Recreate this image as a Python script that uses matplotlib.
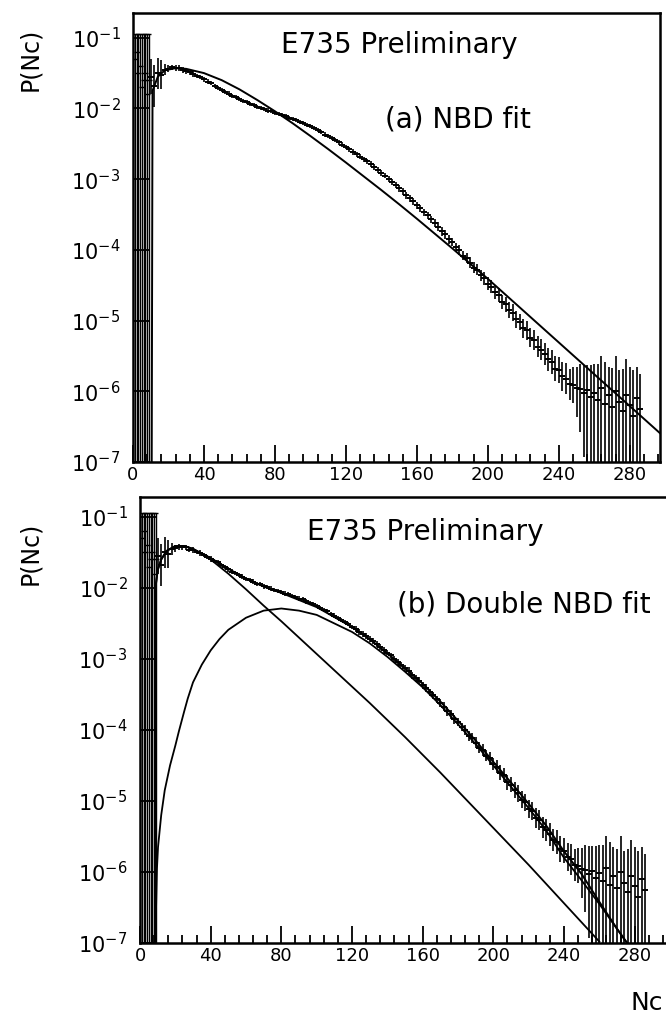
import numpy as np
import matplotlib.pyplot as plt
from matplotlib.ticker import FixedLocator, MultipleLocator, NullLocator

plt.rcParams['font.family'] = ['DejaVu Sans']

# measured multiplicity distribution (log10 P), same data in both panels
nc_low = [1, 2, 3, 4, 5, 6, 7, 8, 9]
logp_low = [-1.3, -1.2, -1.5, -1.4, -1.7, -1.6, -1.5, -1.8, -1.6]
low_top = -0.95

nc = list(range(10, 287, 2))
logp = [-1.55, -1.68, -1.50, -1.52, -1.45, -1.44, -1.42, -1.43, -1.43, -1.46,
        -1.47, -1.49, -1.51, -1.54, -1.56, -1.59, -1.62, -1.64, -1.68, -1.71,
        -1.74, -1.77, -1.79, -1.82, -1.84, -1.87, -1.89, -1.91, -1.94, -1.95,
        -1.98, -1.99, -2.01, -2.03, -2.04, -2.06, -2.08, -2.09, -2.11, -2.13,
        -2.15, -2.16, -2.19, -2.21, -2.23, -2.25, -2.28, -2.31, -2.33, -2.37,
        -2.39, -2.42, -2.45, -2.48, -2.51, -2.55, -2.58, -2.62, -2.65, -2.68,
        -2.72, -2.75, -2.79, -2.83, -2.87, -2.91, -2.95, -3.00, -3.04, -3.08,
        -3.13, -3.17, -3.23, -3.27, -3.31, -3.37, -3.41, -3.47, -3.51, -3.57,
        -3.62, -3.67, -3.74, -3.78, -3.85, -3.89, -3.96, -4.00, -4.08, -4.12,
        -4.18, -4.25, -4.28, -4.36, -4.40, -4.48, -4.52, -4.60, -4.64, -4.74,
        -4.77, -4.85, -4.89, -4.98, -5.02, -5.11, -5.14, -5.24, -5.27, -5.37,
        -5.41, -5.47, -5.55, -5.58, -5.68, -5.70, -5.79, -5.82, -5.90, -5.91,
        -5.96, -5.97, -6.03, -5.98, -6.08, -6.02, -6.12, -5.95, -6.18, -6.05,
        -6.22, -6.00, -6.15, -6.28, -6.05, -6.20, -6.35, -6.10, -6.25]
# error bar half-lengths in decades
err_hi = [0.25, 0.30, 0.22, 0.20, 0.08, 0.05, 0.04, 0.04, 0.04, 0.04,
          0.04, 0.03, 0.04, 0.03, 0.03, 0.04, 0.03, 0.03, 0.03, 0.03,
          0.03, 0.03, 0.03, 0.03, 0.03, 0.03, 0.03, 0.03, 0.03, 0.03,
          0.03, 0.03, 0.03, 0.03, 0.03, 0.03, 0.03, 0.03, 0.03, 0.03,
          0.03, 0.03, 0.03, 0.03, 0.03, 0.03, 0.03, 0.03, 0.03, 0.03,
          0.03, 0.03, 0.03, 0.03, 0.03, 0.03, 0.04, 0.04, 0.04, 0.04,
          0.04, 0.04, 0.04, 0.04, 0.04, 0.04, 0.04, 0.04, 0.04, 0.04,
          0.05, 0.05, 0.05, 0.05, 0.05, 0.05, 0.05, 0.05, 0.05, 0.05,
          0.06, 0.06, 0.06, 0.06, 0.06, 0.06, 0.06, 0.07, 0.07, 0.07,
          0.08, 0.08, 0.08, 0.08, 0.09, 0.09, 0.09, 0.10, 0.10, 0.10,
          0.11, 0.11, 0.12, 0.12, 0.12, 0.13, 0.13, 0.14, 0.14, 0.15,
          0.15, 0.16, 0.16, 0.17, 0.18, 0.18, 0.20, 0.22, 0.22, 0.25,
          0.30, 0.35, 0.40, 0.35, 0.45, 0.40, 0.50, 0.45, 0.60, 0.40,
          0.55, 0.50, 0.45, 0.60, 0.50, 0.55, 0.65, 0.45, 0.50]
err_lo = err_hi[:120] + [0.4, 0.6, 0.9, 2.5, 2.5, 2.5, 2.5, 2.5, 2.5, 2.5,
                         2.5, 2.5, 2.5, 2.5, 2.5, 2.5, 2.5, 2.5, 2.5]

# (a) single NBD fit
nc_fit_a = [10.5, 11, 14, 18, 24, 30, 40, 50, 60, 70, 80, 90, 100, 110, 120,
            130, 140, 150, 160, 170, 180, 190, 200, 210, 220, 230, 240, 250, 260,
            270, 280, 290, 298]
log_fit_a = [-7.5, -1.75, -1.55, -1.46, -1.43, -1.44, -1.50, -1.60, -1.73, -1.88,
             -2.04, -2.21, -2.39, -2.575, -2.765, -2.96, -3.155, -3.355, -3.56,
             -3.77, -3.98, -4.195, -4.41, -4.635, -4.86, -5.085, -5.31, -5.535,
             -5.76, -5.985, -6.21, -6.435, -6.615]

# (b) double NBD fit: soft component, semi-hard component and their sum
nc_soft = [8.5, 9, 10, 12, 15, 20, 25, 30, 40, 50, 60, 70, 80, 90, 100, 110, 120,
           130, 140, 150, 160, 170, 180, 190, 200, 210, 220, 230, 240, 250, 260]
log_soft = [-7.5, -1.95, -1.75, -1.6, -1.48, -1.41, -1.41, -1.45, -1.60, -1.80,
            -2.02, -2.25, -2.47, -2.70, -2.93, -3.16, -3.39, -3.62, -3.86, -4.10,
            -4.35, -4.60, -4.86, -5.12, -5.38, -5.64, -5.90, -6.17, -6.44, -6.71,
            -6.98]
nc_hard = [9, 9.6, 10.2, 12, 14, 17, 20, 22, 25, 27, 30, 35, 40, 45, 50, 60, 70,
           80, 90, 100, 110, 120, 130, 140, 150, 160, 170, 180, 190, 200, 210,
           220, 230, 240, 250, 260, 270, 280]
log_hard = [-6.6, -5.95, -5.65, -5.2, -4.85, -4.5, -4.22, -4.02, -3.74, -3.56,
            -3.33, -3.08, -2.88, -2.72, -2.59, -2.42, -2.32, -2.29, -2.32, -2.38,
            -2.50, -2.62, -2.78, -2.97, -3.18, -3.40, -3.65, -3.92, -4.20, -4.50,
            -4.80, -5.10, -5.42, -5.80, -6.12, -6.45, -6.80, -7.15]
nc_sum = [8.5, 9, 10, 12, 15, 20, 25, 30, 40, 50, 60, 70, 80, 90, 100, 110, 120,
          130, 140, 150, 160, 170, 180, 190, 200, 210, 220, 230, 240, 250, 260,
          270, 280]
log_sum = [-7.5, -1.95, -1.75, -1.6, -1.48, -1.41, -1.41, -1.45, -1.58, -1.73,
           -1.87, -1.98, -2.07, -2.17, -2.27, -2.41, -2.55, -2.72, -2.92, -3.13,
           -3.35, -3.60, -3.87, -4.15, -4.45, -4.74, -5.04, -5.35, -5.71, -6.03,
           -6.42, -6.80, -7.15]

x_labels = [0, 40, 80, 120, 160, 200, 240, 280]
y_decades = [1e-7, 1e-6, 1e-5, 1e-4, 1e-3, 1e-2, 1e-1]

W, H = 666, 1019
fig = plt.figure(figsize=(W / 100, H / 100), dpi=100)
# panel boxes in pixels: left, top, right, bottom
boxes = [(133, 13, 660, 462), (140, 497, 670, 943)]
xmax = [297, 300]
ytop = [-0.65, -0.72]

axes = []
for (l, t, r, b), xm, yt in zip(boxes, xmax, ytop):
    ax = fig.add_axes([l / W, 1 - b / H, (r - l) / W, (b - t) / H])
    ax.set_yscale('log')
    ax.set_xlim(0, xm)
    ax.set_ylim(1e-7, 10 ** yt)
    for s in ax.spines.values():
        s.set_linewidth(1.8)
    ax.xaxis.set_major_locator(FixedLocator(x_labels))
    ax.xaxis.set_minor_locator(MultipleLocator(8))
    ax.yaxis.set_major_locator(FixedLocator(y_decades))
    ax.yaxis.set_minor_locator(NullLocator())
    ax.tick_params(which='both', direction='in', top=False, right=False, width=1.3)
    ax.tick_params(which='major', length=12, labelsize=13)
    ax.tick_params(which='minor', length=5.5)
    ax.tick_params(axis='y', labelsize=15, pad=9)
    ax.tick_params(axis='x', pad=3)

    # data
    p = 10 ** np.array(logp)
    lo = p - 10 ** (np.array(logp) - np.array(err_lo))
    hi = 10 ** (np.array(logp) + np.array(err_hi)) - p
    ax.errorbar(nc, p, yerr=[lo, hi], fmt='_', color='black', ms=4, mew=1.4,
                elinewidth=1.2, capsize=0)
    pl = 10 ** np.array(logp_low)
    ax.errorbar(nc_low, pl, yerr=[pl - 1e-9, 10 ** low_top - pl], fmt='_',
                color='black', ms=4, mew=1.0, elinewidth=1.0, capsize=1.5)
    axes.append(ax)

ax1, ax2 = axes
ax1.plot(nc_fit_a, 10 ** np.array(log_fit_a), color='black', lw=1.4)
ax2.plot(nc_soft, 10 ** np.array(log_soft), color='black', lw=1.3)
ax2.plot(nc_hard, 10 ** np.array(log_hard), color='black', lw=1.3)
ax2.plot(nc_sum, 10 ** np.array(log_sum), color='black', lw=1.4)

ax1.text(0.505, 0.929, 'E735 Preliminary', transform=ax1.transAxes,
         ha='center', va='center', fontsize=20)
ax1.text(0.617, 0.762, '(a) NBD fit', transform=ax1.transAxes,
         ha='center', va='center', fontsize=20)
ax2.text(0.538, 0.922, 'E735 Preliminary', transform=ax2.transAxes,
         ha='center', va='center', fontsize=20)
ax2.text(0.725, 0.758, '(b) Double NBD fit', transform=ax2.transAxes,
         ha='center', va='center', fontsize=20)

fig.text(30 / W, 1 - 59 / H, 'P(Nc)', rotation=90, ha='center', va='center', fontsize=17)
fig.text(30 / W, 1 - 553 / H, 'P(Nc)', rotation=90, ha='center', va='center', fontsize=17)
fig.text(663 / W, 1 - 1003 / H, 'Nc', ha='right', va='center', fontsize=18)

fig.savefig('out.png', dpi=100)
